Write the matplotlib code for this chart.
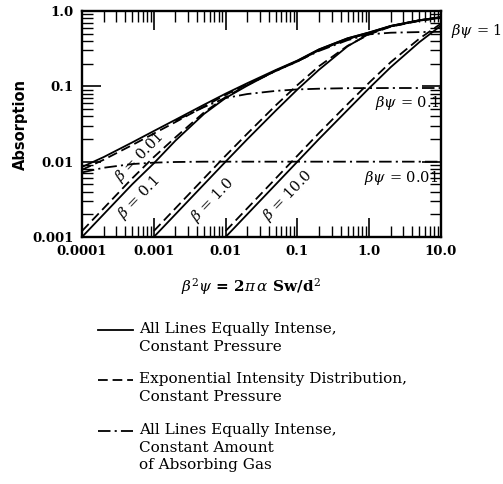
import matplotlib
matplotlib.use("Agg")
import matplotlib.pyplot as plt
from matplotlib.lines import Line2D

plt.rcParams['lines.scale_dashes'] = False
plt.rcParams['mathtext.fontset'] = 'dejavuserif'

# ---- data ----
X = [1e-4, 2e-4, 5e-4, 1e-3, 2e-3, 5e-3, 1e-2, 2e-2, 5e-2, 0.1, 0.2, 0.5, 1.0, 2.0, 5.0, 10.0]

# All lines equally intense, constant pressure (solid)
solid_b001 = [0.0085, 0.0115, 0.018, 0.0255, 0.036, 0.057, 0.080, 0.110, 0.165, 0.220, 0.310, 0.435, 0.520, 0.635, 0.755, 0.830]
solid_b01 = [0.0010, 0.0020, 0.0050, 0.0095, 0.019, 0.043, 0.070, 0.102, 0.162, 0.218, 0.308, 0.433, 0.518, 0.633, 0.753, 0.828]
solid_b1 = [None, None, None, 0.0010, 0.0020, 0.0050, 0.010, 0.0198, 0.0476, 0.0908, 0.166, 0.340, 0.500, 0.630, 0.752, 0.828]
solid_b10 = [None, None, None, None, None, None, 0.0010, 0.0020, 0.0050, 0.010, 0.020, 0.0485, 0.0947, 0.180, 0.386, 0.640]

# Exponential intensity distribution, constant pressure (dashed)
dash_b001 = [0.0078, 0.0106, 0.0166, 0.0236, 0.0335, 0.054, 0.077, 0.106, 0.160, 0.214, 0.302, 0.425, 0.510, 0.625, 0.745, 0.820]
dash_b01 = [0.0012, 0.0024, 0.0060, 0.0115, 0.021, 0.045, 0.072, 0.104, 0.160, 0.214, 0.302, 0.425, 0.510, 0.625, 0.745, 0.820]
dash_b1 = [None, None, None, 0.0012, 0.0024, 0.0060, 0.012, 0.0235, 0.056, 0.104, 0.185, 0.345, 0.490, 0.620, 0.740, 0.815]
dash_b10 = [None, None, None, None, None, None, 0.0012, 0.0024, 0.0060, 0.012, 0.024, 0.058, 0.112, 0.210, 0.430, 0.680]

# All lines equally intense, constant amount of absorbing gas (dash-dot)
dd_001 = [0.0072, 0.0083, 0.0093, 0.0097, 0.0099, 0.0100, 0.0100, 0.0100, 0.0100, 0.0100, 0.0100, 0.0100, 0.0100, 0.0100, 0.0100, 0.0100]
dd_01 = [None, None, None, None, 0.035, 0.053, 0.070, 0.079, 0.087, 0.091, 0.093, 0.0945, 0.0947, 0.095, 0.095, 0.095]
dd_1 = [None, None, None, None, None, None, None, None, None, 0.215, 0.295, 0.410, 0.490, 0.515, 0.525, 0.530]

beta_labels = ['$\\beta$ = 0.01', '$\\beta$ = 0.1', '$\\beta$ = 1.0', '$\\beta$ = 10.0']
bpsi_labels = ['$\\beta\\psi$ = 1', '$\\beta\\psi$ = 0.1', '$\\beta\\psi$ = 0.01']
xticks = [1e-4, 1e-3, 1e-2, 1e-1, 1.0, 10.0]
xticklabels = ['0.0001', '0.001', '0.01', '0.1', '1.0', '10.0']
yticks = [1e-3, 1e-2, 1e-1, 1.0]
yticklabels = ['0.001', '0.01', '0.1', '1.0']
legend_labels = ['All Lines Equally Intense,\nConstant Pressure',
                 'Exponential Intensity Distribution,\nConstant Pressure',
                 'All Lines Equally Intense,\nConstant Amount\nof Absorbing Gas']


def pts(ys):
    xs = [x for x, y in zip(X, ys) if y is not None]
    yy = [y for y in ys if y is not None]
    return xs, yy


W, H = 503, 484
fig = plt.figure(figsize=(W / 100, H / 100), dpi=100)
ax = fig.add_axes([82 / W, 1 - 237 / H, (441 - 82) / W, (237 - 11) / H])
ax.set_xscale('log')
ax.set_yscale('log')
ax.set_xlim(1e-4, 10)
ax.set_ylim(1e-3, 1)

lw = 1.3
DASH = (0, (7, 3.5))
DASHDOT = (0, (9, 3, 1.5, 3))
for ys in (solid_b001, solid_b01, solid_b1, solid_b10):
    ax.plot(*pts(ys), color='black', lw=lw, solid_capstyle='butt')
for ys in (dash_b001, dash_b01, dash_b1, dash_b10):
    ax.plot(*pts(ys), color='black', lw=lw, linestyle=DASH)
for ys in (dd_001, dd_01, dd_1):
    ax.plot(*pts(ys), color='black', lw=lw, linestyle=DASHDOT)

for s in ax.spines.values():
    s.set_linewidth(1.7)
ax.tick_params(which='both', direction='in', top=True, right=True, color='black')
ax.tick_params(which='major', length=14, width=1.2, pad=6)
ax.tick_params(which='minor', length=8, width=1.0)
ax.set_xticks(xticks)
ax.set_xticklabels(xticklabels)
ax.set_yticks(yticks)
ax.set_yticklabels(yticklabels)
for lab in ax.get_xticklabels() + ax.get_yticklabels():
    lab.set_fontfamily('DejaVu Serif')
    lab.set_fontweight('bold')
    lab.set_fontsize(9.5)

# beta labels rotated along the lines
beta_pos = [(6.3e-4, 0.0116), (6.2e-4, 0.0033), (6.5e-3, 0.0031), (7.4e-2, 0.0035)]
for (bx, by), t in zip(beta_pos, beta_labels):
    ax.text(bx, by, t, rotation=46, ha='center', va='center', fontsize=10.5,
            family='DejaVu Serif', rotation_mode='anchor')

fig.text(502 / W, 1 - 31 / H, bpsi_labels[0], ha='right', va='center', fontsize=10.5,
         family='DejaVu Serif')
ax.text(9.8, 0.060, bpsi_labels[1], ha='right', va='center', fontsize=10.5,
        family='DejaVu Serif')
ax.text(9.2, 0.0061, bpsi_labels[2], ha='right', va='center', fontsize=10.5,
        family='DejaVu Serif')

fig.text(20 / W, 1 - 125 / H, 'Absorption', rotation=90, ha='center', va='center',
         fontsize=10.5, fontweight='bold', family='DejaVu Sans')
fig.text(251 / W, 1 - 287 / H, r'$\beta^{2}\psi$ = 2$\pi\,\alpha$ Sw/d$^{2}$', ha='center', va='center',
         fontsize=11, family='DejaVu Serif', fontweight='bold')

# legend drawn beneath the chart
leg_y = [330, 380, 431]
leg_styles = ['-', DASH, DASHDOT]
for yy, st, lab in zip(leg_y, leg_styles, legend_labels):
    fig.add_artist(Line2D([98 / W, 133 / W], [1 - yy / H, 1 - yy / H], color='black',
                          lw=lw, linestyle=st, transform=fig.transFigure))
    fig.text(139 / W, 1 - (yy - 8) / H, lab, ha='left', va='top', fontsize=11,
             family='DejaVu Serif', linespacing=1.33)

fig.savefig('out.png', dpi=100, facecolor='white')
